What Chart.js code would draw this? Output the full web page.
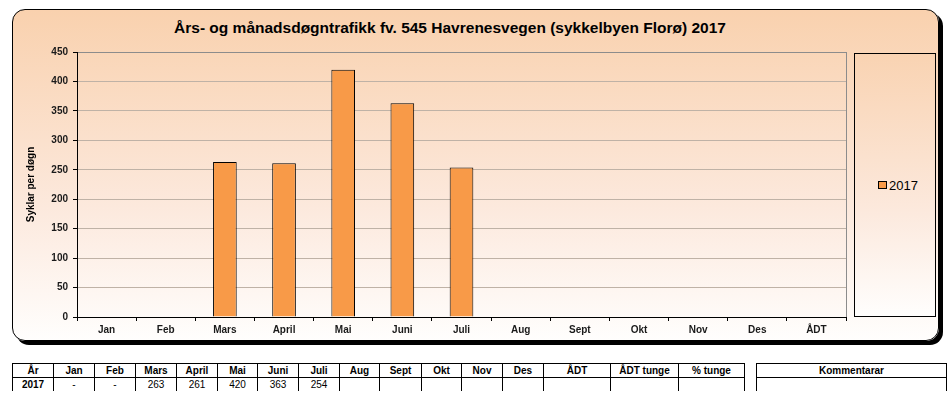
<!DOCTYPE html>
<html>
<head>
<meta charset="utf-8">
<script src="https://cdn.jsdelivr.net/npm/chart.js@4/dist/chart.umd.min.js"></script>
<style>
  body { margin: 0; width: 952px; height: 410px; background: #fff; position: relative; overflow: hidden;
         font-family: "Liberation Sans", Arial, sans-serif; color: #000; }
  #frame { position: absolute; left: 12px; top: 9px; width: 927px; height: 332px; box-sizing: border-box;
           border: 1px solid #000; border-radius: 13px; box-shadow: 4px 4px 0 #000;
           background: linear-gradient(#f9d1ae, #fce9dd 60%, #fffefd); }
  #title { position: absolute; left: 0; width: 900px; top: 19px; text-align: center;
           font-weight: bold; font-size: 15.5px; line-height: 17px; }
  #legendBox { position: absolute; left: 854px; top: 53px; width: 82px; height: 264px; box-sizing: border-box;
               border: 1px solid #000; background: linear-gradient(#f9d3b2, #fce9dd 60%, #fffefd); }
  #legendItem { position: absolute; left: 23px; top: 124px; font-size: 13px; line-height: 15px; white-space: nowrap; }
  #legendItem span.sw { display: inline-block; width: 7px; height: 6px; border: 1px solid #000;
                        background: #f89a48; margin-right: 2px; vertical-align: 1px; }
  canvas { position: absolute; left: 0; top: 0; }
  .cell { position: absolute; box-sizing: border-box; border-left: 1px solid #000; border-top: 1px solid #000;
          font-size: 10px; line-height: 13px; text-align: center; height: 14px; }
  .cell.last { border-right: 1px solid #000; }
  .cell.b { font-weight: bold; }
</style>
</head>
<body>
<div id="frame"></div>
<div id="title">Års- og månadsdøgntrafikk fv. 545 Havrenesvegen (sykkelbyen Florø) 2017</div>
<div id="legendBox"><div id="legendItem"><span class="sw"></span>2017</div></div>
<canvas id="chart" width="952" height="350"></canvas>
<div id="table"></div>
<script>
// categories on the x axis (ÅDT = årsdøgntrafikk, last column)
const categories = ["Jan", "Feb", "Mars", "April", "Mai", "Juni", "Juli", "Aug", "Sept", "Okt", "Nov", "Des", "ÅDT"];
// cyclists per day, 2017 (null = no count)
const values2017 = [null, null, 263, 261, 420, 363, 254, null, null, null, null, null, null];
const seriesLabel = "2017";
const yTicks = [0, 50, 100, 150, 200, 250, 300, 350, 400, 450];

// table under the chart
const tableHeaders = ["År", "Jan", "Feb", "Mars", "April", "Mai", "Juni", "Juli", "Aug", "Sept", "Okt", "Nov", "Des", "ÅDT", "ÅDT tunge", "% tunge"];
const tableRow = [seriesLabel, "-", "-"].concat(values2017.slice(2, 12).map(v => v == null ? "" : String(v)), ["", "", ""]);
const colEdges = [12, 53, 94, 135, 176, 217, 257, 298, 339, 379, 421, 461, 502, 543, 610, 678, 744];

const tbl = document.getElementById("table");
function cell(x, w, y, text, cls) {
  const d = document.createElement("div");
  d.className = "cell " + cls;
  d.style.left = x + "px";
  d.style.width = w + "px";
  d.style.top = y + "px";
  d.textContent = text;
  tbl.appendChild(d);
}
tableHeaders.forEach((h, i) => {
  const last = i === tableHeaders.length - 1 ? " last" : "";
  const w = colEdges[i + 1] - colEdges[i] + (last ? 1 : 0);
  cell(colEdges[i], w, 363, h, "b" + last);
  cell(colEdges[i], w, 377, tableRow[i], (i === 0 ? "b" : "") + last);
});
cell(756, 191, 363, "Kommentarar", "b last");
cell(756, 191, 377, "", "last");

// gray border on the right side of the plot area
const plotBorder = {
  id: "plotBorder",
  beforeDatasetsDraw(chart) {
    const { ctx, chartArea: a } = chart;
    ctx.save();
    ctx.strokeStyle = "#8c8c8c";
    ctx.lineWidth = 1;
    ctx.beginPath();
    ctx.moveTo(Math.round(a.right) + 0.5, a.top);
    ctx.lineTo(Math.round(a.right) + 0.5, a.bottom);
    ctx.stroke();
    ctx.restore();
  }
};

const tickFont = { family: "'Liberation Sans', Arial, sans-serif", size: 10, weight: "bold" };

new Chart(document.getElementById("chart"), {
  type: "bar",
  data: {
    labels: categories,
    datasets: [{
      label: seriesLabel,
      data: values2017,
      backgroundColor: "#f89a48",
      borderColor: "#000",
      borderWidth: 1,
      barPercentage: 0.4,
      categoryPercentage: 1
    }]
  },
  options: {
    responsive: false,
    animation: false,
    devicePixelRatio: 1,
    layout: { padding: { left: 12, right: 106, top: 52, bottom: 13 } },
    plugins: {
      legend: { display: false },
      tooltip: { enabled: false }
    },
    scales: {
      x: {
        offset: true,
        grid: { display: true, drawOnChartArea: false, drawTicks: true, tickLength: 4, tickColor: "#000", offset: true },
        border: { color: "#000", width: 1 },
        ticks: { color: "#1a1a1a", font: tickFont, padding: 3, maxRotation: 0, autoSkip: false },
        afterFit: s => { s.height = 20; }
      },
      y: {
        min: 0,
        max: 450,
        afterBuildTicks: s => { s.ticks = yTicks.map(v => ({ value: v })); },
        grid: {
          color: c => c.tick && c.tick.value === 450 ? "#8c8c8c" : "#bfb2a6",
          tickLength: 4,
          tickColor: "#000"
        },
        border: { color: "#000", width: 1 },
        ticks: { color: "#1a1a1a", font: tickFont, padding: 5 },
        title: {
          display: true,
          text: "Syklar per døgn",
          color: "#000",
          font: tickFont,
          padding: { top: 13, bottom: 0 }
        },
        afterFit: s => { s.width = 65; }
      }
    }
  },
  plugins: [plotBorder]
});
</script>
</body>
</html>
